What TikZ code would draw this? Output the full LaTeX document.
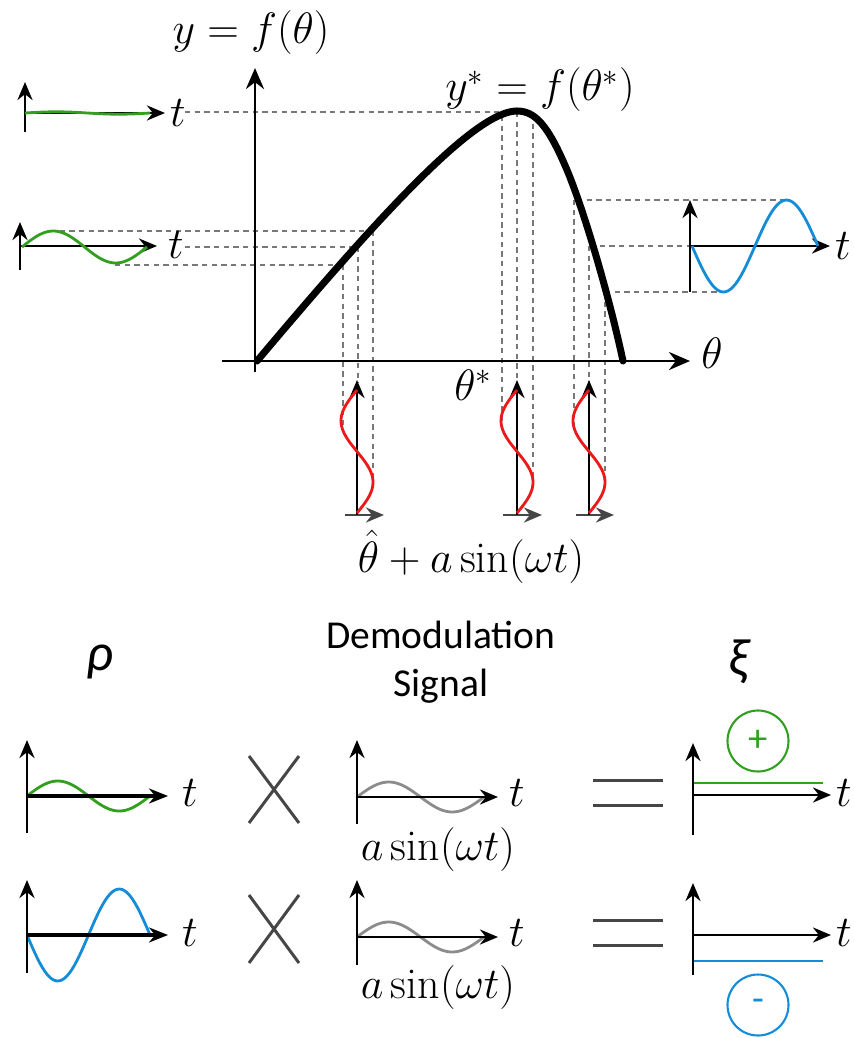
\RequirePackage{fix-cm}
\documentclass[tikz,border=0pt]{standalone}
\usepackage{fontspec}
\newfontfamily\calib{Carlito}
\usetikzlibrary{arrows.meta}
\definecolor{sigGreen}{RGB}{50,160,30}
\definecolor{sigBlue}{RGB}{20,140,215}
\definecolor{probeRed}{RGB}{235,25,25}
\definecolor{opGrey}{RGB}{70,70,70}
\definecolor{demodGrey}{RGB}{140,140,140}
\definecolor{guideGrey}{RGB}{120,120,120}

\begin{document}
\begin{tikzpicture}[x=0.02cm,y=-0.02cm]
  \tikzstyle{bigax}=[line width=1.7pt,-{Stealth[length=0.42cm,width=0.36cm]}]
  \tikzstyle{ax}=[line width=1.6pt,-{Stealth[length=0.36cm,width=0.3cm]}]
  \tikzstyle{thickax}=[line width=2.8pt,-{Stealth[length=0.38cm,width=0.3cm]}]
  \tikzstyle{probeax}=[line width=1.6pt,opGrey,-{Stealth[length=0.36cm,width=0.3cm]}]
  \tikzstyle{guide}=[guideGrey,line width=0.8pt,dash pattern=on 3pt off 2.5pt]
  \tikzstyle{wave}=[line width=1.6pt]
  \tikzstyle{lbl}=[inner sep=0pt,font=\fontsize{25}{30}\selectfont]
  \tikzstyle{word}=[inner sep=0pt,align=center,font=\calib\fontsize{22.5}{27}\selectfont]
  \tikzstyle{sign}=[circle,draw,line width=1.2pt,minimum size=1.22cm,inner sep=0pt,
    font=\calib\fontsize{22}{24}\selectfont]
  \tikzstyle{op}=[opGrey,line width=1.7pt]

  \useasboundingbox (0,0) rectangle (853,1038);

  % -- guide lines (dashed) --
  \draw[guide] (185,112) -- (505,112);
  \draw[guide] (50,231) -- (373,231);
  \draw[guide] (185,247) -- (358,247);
  \draw[guide] (115,265) -- (343,265);
  \draw[guide] (343,265) -- (343,425);
  \draw[guide] (358,247) -- (358,383);
  \draw[guide] (373,231) -- (373,483);
  \draw[guide] (502,116) -- (502,425);
  \draw[guide] (517,112) -- (517,383);
  \draw[guide] (533,114) -- (533,483);
  \draw[guide] (574,200) -- (574,425);
  \draw[guide] (589,246) -- (589,383);
  \draw[guide] (605,292) -- (605,483);
  \draw[guide] (577,200) -- (787,200);
  \draw[guide] (590,246) -- (690,246);
  \draw[guide] (605,292) -- (722,292);

  % -- cost curve and axes --
  \draw[line width=4pt,line cap=round,line join=round]
    (257,361) .. controls (380,215) and (475,111) .. (517,111)
    .. controls (535,111) and (548,125) .. (567,170)
    .. controls (585,213) and (610,300) .. (623,361);
  \draw[bigax] (255,372) -- (255,68);
  \draw[bigax] (222,361) -- (690,361);
  \node[lbl] (yfun) at (251,33) {$y=f(\theta)$};
  \node[lbl] (thlbl) at (712,353) {$\theta$};
  \node[lbl] (ystar) at (540,90) {$y^*=f(\theta^*)$};
  \node[lbl] (thstar) at (473,385) {$\theta^*$};
  \node[lbl] (probe) at (471,557) {$\hat\theta+a\sin(\omega t)$};

  % -- output near the peak / on the slope --
  \draw[ax] (25,132) -- (25,82);
  \draw[ax] (25,113) -- (165,113);
  \draw[wave,sigGreen] plot[domain=25:150,samples=40] (\x,{113-1.2*sin((\x-25)/125*360)});
  \node[lbl] (tpeak) at (178,113) {$t$};
  \draw[ax] (20,270) -- (20,222);
  \draw[ax] (20,246) -- (157,246);
  \draw[wave,sigGreen] plot[domain=22:147,samples=50] (\x,{247-16*sin((\x-22)/125*360)});
  \node[lbl] (tslope) at (176,245) {$t$};

  % -- output beyond the peak --
  \draw[ax] (690,292) -- (690,200);
  \draw[ax] (690,246) -- (830,246);
  \draw[wave,sigBlue] plot[domain=692:818,samples=50] (\x,{246+46*sin((\x-692)/126*360)});
  \node[lbl] (tdown) at (843,246) {$t$};

  % -- probing signals --
  \draw[probeax] (345,515) -- (384,515);
  \draw[ax] (357,515) -- (357,380);
  \draw[wave,probeRed] plot[domain=0:1,samples=50] ({357+16*sin(360*\x)},{513-123*\x});
  \draw[probeax] (503,515) -- (542,515);
  \draw[ax] (517,515) -- (517,380);
  \draw[wave,probeRed] plot[domain=0:1,samples=50] ({517+16*sin(360*\x)},{513-123*\x});
  \draw[probeax] (576,515) -- (614,515);
  \draw[ax] (589,515) -- (589,380);
  \draw[wave,probeRed] plot[domain=0:1,samples=50] ({589+16*sin(360*\x)},{513-123*\x});

  % -- demodulation: headings --
  \node[word,font=\calib\itshape\fontsize{30}{34}\selectfont] (rho) at (100,662) {ρ};
  \node[word] (demod) at (441,662) {Demodulation\\Signal};
  \node[word,font=\calib\itshape\fontsize{30}{34}\selectfont] (xi) at (738,662) {ξ};

  % -- row 1: in phase --
  \draw[wave,sigGreen] plot[domain=27:150,samples=50] (\x,{796-15*sin((\x-27)/123*360)});
  \draw[ax] (27,833) -- (27,740);
  \draw[thickax] (27,796) -- (168,796);
  \node[lbl] (trho1) at (190,793) {$t$};
  \draw[op] (249,756) -- (299,823);
  \draw[op] (299,756) -- (249,823);
  \draw[wave,demodGrey] plot[domain=357:484,samples=50] (\x,{797-15*sin((\x-357)/127*360)});
  \draw[ax] (357,824) -- (357,740);
  \draw[ax] (357,797) -- (498,797);
  \node[lbl] (tdem1) at (517,793) {$t$};
  \node[lbl] (asin1) at (438,850) {$a\sin(\omega t)$};
  \draw[op] (593,780) -- (663,780);
  \draw[op] (593,805) -- (663,805);
  \draw[wave,sigGreen] (693,783) -- (823,783);
  \draw[ax] (693,835) -- (693,743);
  \draw[ax] (693,795) -- (831,795);
  \node[lbl] (txi1) at (844,793) {$t$};
  \node[sign,draw=sigGreen,text=sigGreen] (plus) at (758,741) {+};

  % -- row 2: out of phase --
  \draw[wave,sigBlue] plot[domain=27:150,samples=50] (\x,{935+46*sin((\x-27)/123*360)});
  \draw[ax] (27,973) -- (27,880);
  \draw[thickax] (27,935) -- (168,935);
  \node[lbl] (trho2) at (190,933) {$t$};
  \draw[op] (249,895) -- (299,963);
  \draw[op] (299,895) -- (249,963);
  \draw[wave,demodGrey] plot[domain=357:484,samples=50] (\x,{937-15*sin((\x-357)/127*360)});
  \draw[ax] (357,965) -- (357,880);
  \draw[ax] (357,937) -- (498,937);
  \node[lbl] (tdem2) at (517,933) {$t$};
  \node[lbl] (asin2) at (438,988) {$a\sin(\omega t)$};
  \draw[op] (593,920) -- (663,920);
  \draw[op] (593,945) -- (663,945);
  \draw[wave,sigBlue] (693,961) -- (823,961);
  \draw[ax] (693,975) -- (693,883);
  \draw[ax] (693,935) -- (831,935);
  \node[lbl] (txi2) at (844,933) {$t$};
  \node[sign,draw=sigBlue,text=sigBlue] (minus) at (758,1005) {-};
\end{tikzpicture}
\end{document}
